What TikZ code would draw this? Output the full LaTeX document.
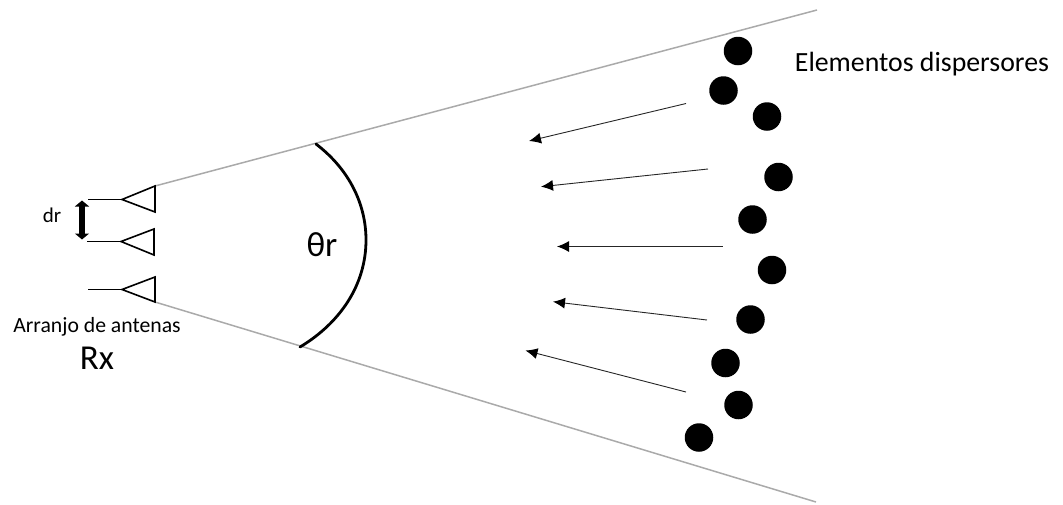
\documentclass[tikz,border=0pt]{standalone}
\usepackage{fontspec}
\setmainfont{Carlito}
\usetikzlibrary{arrows.meta}
\definecolor{ray}{RGB}{170,170,170}
\tikzset{
  x=1pt,y=-1pt,
  scatterer/.style={circle,fill=black,draw=none,minimum size=28.5pt,inner sep=0pt},
  label/.style={inner sep=0pt,anchor=base},
  horn/.style={draw=black,line width=1.6pt,line join=miter},
  feed/.style={draw=black,line width=1.6pt},
  boundary/.style={draw=ray,line width=1.5pt},
  wave/.style={draw=black!85,line width=0.9pt,-{Latex[length=12pt,width=11pt,color=black]}},
  spacing/.style={draw=black,line width=6pt,{Triangle[length=6pt,width=14pt]}-{Triangle[length=6pt,width=14pt]}},
  sector/.style={draw=black,line width=2.8pt,line cap=round}
}
\begin{document}
\begin{tikzpicture}
\useasboundingbox (0,0) rectangle (1063,504);
% antennas
\coordinate (a1apex) at (122,199.5); \coordinate (a1top) at (155,186); \coordinate (a1bot) at (155,212); \coordinate (a1feed) at (88,199.5);
\coordinate (a2apex) at (121,241.5); \coordinate (a2top) at (154,229); \coordinate (a2bot) at (154,255); \coordinate (a2feed) at (87,241.5);
\coordinate (a3apex) at (122,289.5); \coordinate (a3top) at (155,277); \coordinate (a3bot) at (155,302); \coordinate (a3feed) at (88,289.5);
% boundaries
\coordinate (bu) at (817,10); \coordinate (bl) at (816,502);
\path[boundary] (a1top) -- (bu);
\path[boundary] (a3bot) -- (bl);
\path[horn] (a1apex) -- (a1top) -- (a1bot) -- cycle;
\path[horn] (a2apex) -- (a2top) -- (a2bot) -- cycle;
\path[horn] (a3apex) -- (a3top) -- (a3bot) -- cycle;
\path[feed] (a1feed) -- (a1apex);
\path[feed] (a2feed) -- (a2apex);
\path[feed] (a3feed) -- (a3apex);
% spacing
\coordinate (dtop) at (82,200.5); \coordinate (dbot) at (82,239.5);
\path[spacing] (dtop) -- (dbot);
% sector arc
\coordinate (s1) at (316,144); \coordinate (s2) at (366,240); \coordinate (s3) at (300,347);
\path[sector] (s1) .. controls (350,170) and (366,205) .. (s2) .. controls (366,285) and (340,323) .. (s3);
% scatterers
\node[scatterer] (c1) at (738,51) {};
\node[scatterer] (c2) at (723.5,90.5) {};
\node[scatterer] (c3) at (767,116.5) {};
\node[scatterer] (c4) at (778.5,177) {};
\node[scatterer] (c5) at (752.5,219.5) {};
\node[scatterer] (c6) at (772,270) {};
\node[scatterer] (c7) at (750.5,319.5) {};
\node[scatterer] (c8) at (725.5,363) {};
\node[scatterer] (c9) at (738.5,405) {};
\node[scatterer] (c10) at (699,437.5) {};
% arrows
\coordinate (w1s) at (686,103.5); \coordinate (w1e) at (529,141);
\coordinate (w2s) at (708,169); \coordinate (w2e) at (541,186.7);
\coordinate (w3s) at (722.5,246.5); \coordinate (w3e) at (557,246.5);
\coordinate (w4s) at (707,320); \coordinate (w4e) at (553,301.7);
\coordinate (w5s) at (686,392); \coordinate (w5e) at (525.5,350.5);
\path[wave] (w1s) -- (w1e);
\path[wave] (w2s) -- (w2e);
\path[wave] (w3s) -- (w3e);
\path[wave] (w4s) -- (w4e);
\path[wave] (w5s) -- (w5e);
% text
\node[label,font=\fontsize{21}{24}\selectfont] (tdr) at (52,222) {dr};
\node[label,font=\fontsize{21.7}{24}\selectfont] (tarr) at (97,332) {Arranjo de antenas};
\node[label,font=\fontsize{35}{38}\selectfont] (trx) at (97,369) {Rx};
\node[label,font=\fontsize{35}{38}\selectfont] (ttheta) at (322,256) {θr};
\node[label,font=\fontsize{27.8}{32}\selectfont] (tel) at (922,71) {Elementos dispersores};
\end{tikzpicture}
\end{document}
